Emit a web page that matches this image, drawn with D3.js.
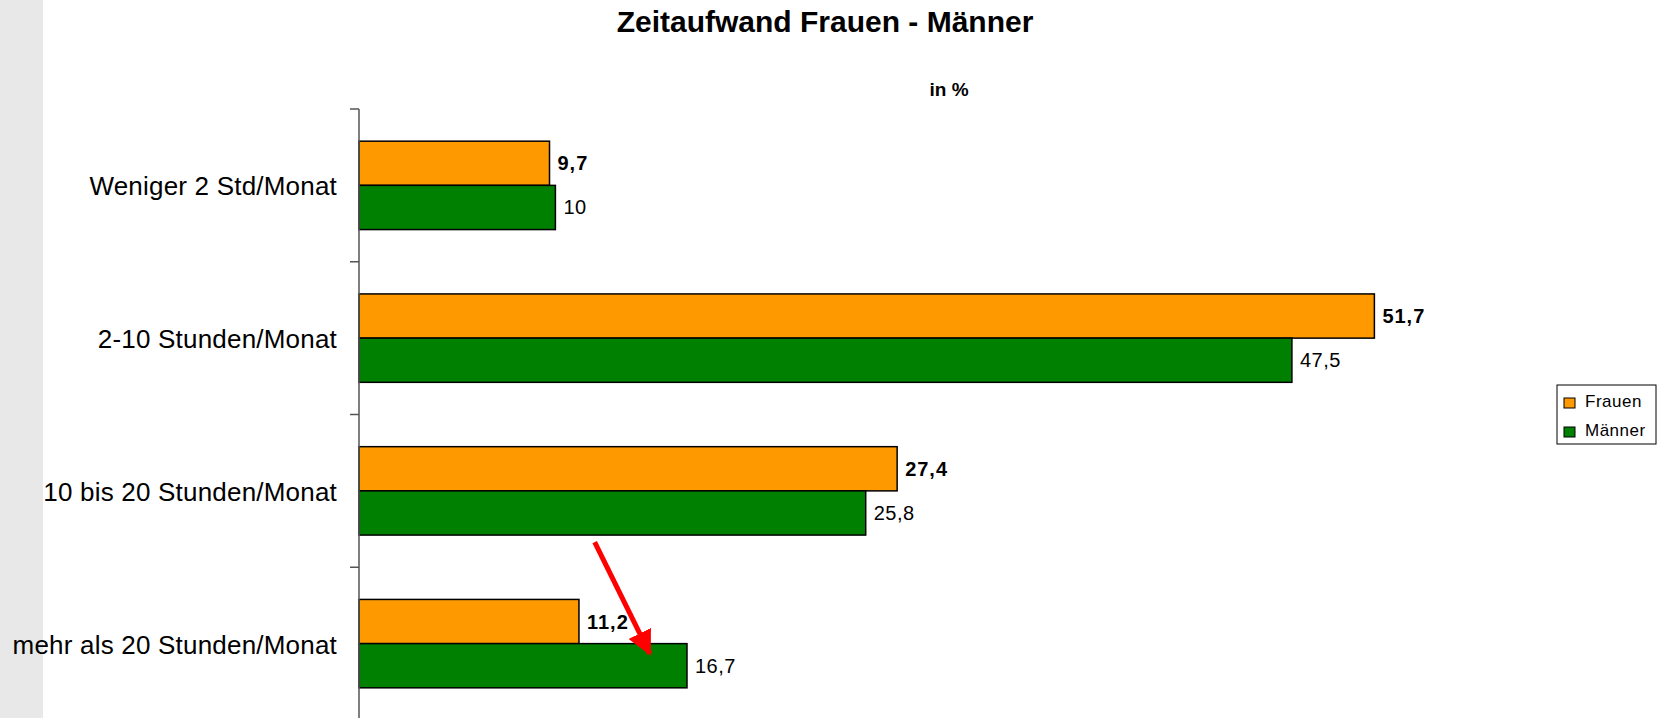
<!DOCTYPE html>
<html>
<head>
<meta charset="utf-8">
<script src="https://cdn.jsdelivr.net/npm/d3@7/dist/d3.min.js"></script>
<style>
  body { margin: 0; background: #fff; }
  svg { display: block; font-family: "Liberation Sans", Arial, sans-serif; }
</style>
</head>
<body>
<svg id="chart" width="1661" height="718"></svg>
<script>
// data
var kategorien = ["Weniger 2 Std/Monat", "2-10 Stunden/Monat", "10 bis 20 Stunden/Monat", "mehr als 20 Stunden/Monat"];
var serien = ["Frauen", "Männer"];
var frauen = [9.7, 51.7, 27.4, 11.2];
var maenner = [10, 47.5, 25.8, 16.7];
var farben = ["#ff9900", "#008000"];

var fmt = function (v) { return String(v).replace(".", ","); };

var svg = d3.select("#chart");

// grauer Rand links
svg.append("rect")
    .attr("x", 0).attr("y", 0)
    .attr("width", 43).attr("height", 718)
    .attr("fill", "#e8e8e8");

var x = d3.scaleLinear().domain([0, 60]).range([359, 359 + 60 * 19.64]);
var y0 = d3.scaleBand().domain(kategorien).range([109, 720]).padding(0);
var y1 = d3.scaleBand().domain(serien).range([0, y0.bandwidth()]).paddingInner(0).paddingOuter(0.728);

// Titel
svg.append("text")
    .attr("x", 825).attr("y", 32)
    .attr("text-anchor", "middle")
    .attr("font-size", "30px")
    .attr("font-weight", "bold")
    .text("Zeitaufwand Frauen - Männer");

svg.append("text")
    .attr("x", 949).attr("y", 96)
    .attr("text-anchor", "middle")
    .attr("font-size", "19px")
    .attr("font-weight", "bold")
    .text("in %");

// Balken
var daten = kategorien.map(function (k, i) {
    return { kat: k, werte: [{ s: "Frauen", v: frauen[i], c: farben[0] }, { s: "Männer", v: maenner[i], c: farben[1] }] };
});

var gruppen = svg.selectAll("g.gruppe")
    .data(daten)
    .enter().append("g")
    .attr("class", "gruppe")
    .attr("transform", function (d) { return "translate(0," + y0(d.kat) + ")"; });

gruppen.selectAll("rect")
    .data(function (d) { return d.werte; })
    .enter().append("rect")
    .attr("x", x(0))
    .attr("y", function (d) { return y1(d.s); })
    .attr("width", function (d) { return x(d.v) - x(0); })
    .attr("height", y1.bandwidth())
    .attr("fill", function (d) { return d.c; })
    .attr("stroke", "#000")
    .attr("stroke-width", 1.5);

gruppen.selectAll("text")
    .data(function (d) { return d.werte; })
    .enter().append("text")
    .attr("x", function (d) { return x(d.v) + 8; })
    .attr("y", function (d) { return y1(d.s) + y1.bandwidth() / 2 + 7; })
    .attr("font-size", "20px")
    .attr("font-weight", function (d) { return d.s == "Frauen" ? "bold" : "normal"; })
    .attr("letter-spacing", function (d) { return d.s == "Frauen" ? "1px" : "0.5px"; })
    .attr("fill", "#000")
    .text(function (d) { return fmt(d.v); });

// y-Achse
var achse = svg.append("g")
    .attr("transform", "translate(" + x(0) + ",0)")
    .call(d3.axisLeft(y0).tickSize(0).tickFormat(""));
achse.select(".domain").remove();
achse.append("line")
    .attr("x1", 0).attr("x2", 0)
    .attr("y1", 109).attr("y2", 720)
    .attr("stroke", "#555").attr("stroke-width", 1.5);
achse.selectAll(".teilstrich")
    .data(kategorien)
    .enter().append("line")
    .attr("x1", -9).attr("x2", 0)
    .attr("y1", function (d) { return y0(d); })
    .attr("y2", function (d) { return y0(d); })
    .attr("stroke", "#555").attr("stroke-width", 1.5);

svg.selectAll("text.kat")
    .data(kategorien)
    .enter().append("text")
    .attr("class", "kat")
    .attr("x", 337)
    .attr("y", function (d) { return y0(d) + y0.bandwidth() / 2 + 10; })
    .attr("text-anchor", "end")
    .attr("font-size", "26px")
    .attr("letter-spacing", "0.2px")
    .attr("fill", "#000")
    .text(function (d) { return d; });

// Legende
var leg = svg.append("g").attr("transform", "translate(1557,385)");
leg.append("rect")
    .attr("width", 99).attr("height", 59)
    .attr("fill", "#fff").attr("stroke", "#000").attr("stroke-width", 1);
serien.forEach(function (s, i) {
    leg.append("rect")
        .attr("x", 7).attr("y", 13 + i * 29)
        .attr("width", 11).attr("height", 10)
        .attr("fill", farben[i]).attr("stroke", "#000").attr("stroke-width", 1);
    leg.append("text")
        .attr("x", 28).attr("y", 22 + i * 29)
        .attr("font-size", "17px")
        .attr("letter-spacing", "0.5px")
        .text(s);
});

// roter Pfeil
var defs = svg.append("defs");
defs.append("marker")
    .attr("id", "spitze")
    .attr("viewBox", "0 0 10 10")
    .attr("refX", 9).attr("refY", 5)
    .attr("markerWidth", 5).attr("markerHeight", 5)
    .attr("orient", "auto")
    .append("path")
    .attr("d", "M0,0 L10,5 L0,10 Z")
    .attr("fill", "#ff0000");

var grpZiel = kategorien[3];
svg.append("line")
    .attr("x1", x(12)).attr("y1", y0(kategorien[2]) + y1("Männer") + y1.bandwidth() + 7)
    .attr("x2", x(14.8)).attr("y2", y0(grpZiel) + y1("Männer") + 10)
    .attr("stroke", "#ff0000")
    .attr("stroke-width", 5)
    .attr("marker-end", "url(#spitze)");
</script>
</body>
</html>
